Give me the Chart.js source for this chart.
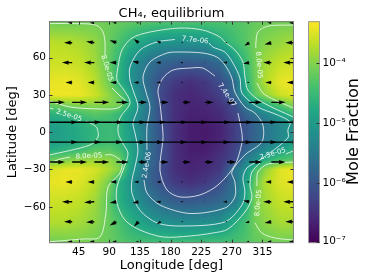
<!DOCTYPE html>
<html>
<head>
<meta charset="utf-8">
<style>html,body{margin:0;padding:0;background:#fff}canvas{display:block}</style>
<script src="https://cdnjs.cloudflare.com/ajax/libs/Chart.js/4.4.1/chart.umd.min.js"></script>
</head>
<body>
<canvas id="chart" width="374" height="280"></canvas>
<script>
// --- Axis ticks ------------------------------------------------------------
const LON_TICKS = [45,90,135,180,225,270,315];
const LAT_TICKS = [-60,-30,0,30,60];
const CBAR_TICKS = [1e-7,1e-6,1e-5,1e-4];
const CBAR_LABELS = ['10\u207B\u2077','10\u207B\u2076','10\u207B\u2075','10\u207B\u2074'];

// --- log10 mole fraction, one row per latitude -----------------------------
const FIELD_LON = [2.9,25,47,69,91,105,120,135,150,165,187,209,231,253,275,290,305,319,341,360.4];
const FIELD_LAT = [88,72,56,40,30,22,14,7,0,-7,-14,-22,-30,-40,-56,-72,-88];
const LOG_N88 = [-4.12,-4.12,-4.12,-4.1,-4.15,-4.2,-4.25,-4.3,-4.35,-4.38,-4.4,-4.4,-4.4,-4.38,-4.33,-4.28,-4.2,-4.15,-4.1,-4.1];
const LOG_N72 = [-3.7,-3.72,-3.78,-3.92,-4.2,-4.4,-4.65,-4.85,-5.0,-5.12,-5.14,-5.15,-5.13,-4.78,-4.45,-4.3,-4.1,-4.0,-3.9,-3.8];
const LOG_N56 = [-3.6,-3.6,-3.65,-3.85,-4.25,-4.63,-5.07,-5.35,-5.62,-5.78,-5.9,-5.95,-5.9,-5.72,-5.0,-4.5,-4.1,-3.85,-3.65,-3.6];
const LOG_N40 = [-3.45,-3.42,-3.47,-3.7,-4.15,-4.65,-5.11,-5.45,-5.8,-6.13,-6.4,-6.5,-6.4,-6.13,-5.72,-4.7,-4.1,-3.75,-3.45,-3.4];
const LOG_N30 = [-3.4,-3.4,-3.42,-3.6,-3.95,-4.22,-4.75,-5.3,-5.7,-6.2,-6.5,-6.6,-6.5,-6.3,-5.7,-4.85,-4.25,-3.95,-3.6,-3.5];
const LOG_N22 = [-4.2,-4.07,-4.0,-3.97,-4.0,-4.1,-4.65,-5.2,-5.62,-6.13,-6.5,-6.62,-6.6,-6.45,-6.13,-5.5,-5.05,-4.7,-4.3,-4.0];
const LOG_N14 = [-4.7,-4.62,-4.45,-4.3,-4.4,-4.58,-4.95,-5.3,-5.68,-6.13,-6.52,-6.66,-6.66,-6.55,-6.25,-5.85,-5.6,-5.35,-4.95,-4.55];
const LOG_N07 = [-4.95,-4.85,-4.7,-4.55,-4.5,-4.6,-5.0,-5.35,-5.72,-6.08,-6.5,-6.7,-6.72,-6.62,-6.3,-6.05,-5.78,-5.58,-5.3,-5.05];
const LOG_EQ  = [-5.0,-4.9,-4.75,-4.62,-4.5,-4.62,-4.95,-5.28,-5.68,-6.05,-6.5,-6.72,-6.75,-6.65,-6.3,-6.05,-5.8,-5.58,-5.3,-5.07];
const LOG_S07 = [-4.98,-4.88,-4.75,-4.58,-4.48,-4.58,-4.9,-5.25,-5.7,-6.05,-6.5,-6.7,-6.72,-6.62,-6.3,-6.05,-5.8,-5.55,-5.28,-5.05];
const LOG_S14 = [-4.75,-4.65,-4.5,-4.3,-4.3,-4.45,-4.8,-5.2,-5.7,-6.05,-6.5,-6.7,-6.7,-6.55,-6.25,-5.85,-5.5,-5.25,-4.95,-4.68];
const LOG_S22 = [-4.2,-4.08,-3.95,-3.9,-3.95,-4.15,-4.75,-5.25,-5.7,-6.05,-6.5,-6.66,-6.62,-6.45,-6.2,-5.45,-5.2,-4.75,-4.4,-4.3];
const LOG_S30 = [-3.55,-3.45,-3.45,-3.55,-3.8,-4.02,-4.85,-5.35,-5.8,-6.13,-6.5,-6.62,-6.55,-6.4,-5.55,-5.15,-4.4,-3.95,-3.5,-3.4];
const LOG_S40 = [-3.45,-3.42,-3.5,-3.7,-4.1,-4.68,-5.05,-5.5,-5.85,-6.1,-6.38,-6.5,-6.4,-6.15,-5.62,-4.95,-4.15,-3.75,-3.5,-3.45];
const LOG_S56 = [-3.6,-3.62,-3.68,-3.85,-4.3,-4.68,-4.98,-5.22,-5.5,-5.7,-5.9,-5.95,-5.88,-5.75,-5.5,-4.85,-4.05,-3.85,-3.65,-3.6];
const LOG_S72 = [-3.75,-3.75,-3.82,-3.95,-4.2,-4.4,-4.65,-4.87,-5.05,-5.15,-5.25,-5.27,-5.22,-5.2,-4.72,-4.45,-4.1,-3.95,-3.8,-3.78];
const LOG_S88 = [-4.1,-4.08,-4.06,-4.1,-4.2,-4.3,-4.4,-4.45,-4.48,-4.5,-4.5,-4.5,-4.5,-4.48,-4.42,-4.35,-4.22,-4.15,-4.1,-4.1];
const FIELD_ROWS = [LOG_N88,LOG_N72,LOG_N56,LOG_N40,LOG_N30,LOG_N22,LOG_N14,LOG_N07,LOG_EQ,LOG_S07,LOG_S14,LOG_S22,LOG_S30,LOG_S40,LOG_S56,LOG_S72,LOG_S88];

// --- Wind vectors, in degrees of lon / lat per row --------------------------
const WIND_LON = [3,35.5,68,100.5,133,165.5,198,230.5,263,295.5,328,360.5];
const WIND_LAT = [88,72,56,40,24,8,-8,-24,-40,-56,-72,-88];
const WIND_U = [
  [-6,-7,-7,-6,-4,-3,-1.5,-1.5,-3,-4,-6,-7],
  [-12,-12,-12,-10,-7,-6,-3,-1.5,-3,-7,-10,-12],
  [-15,-15,-15,-10,-9,-7,-4,-1.5,-6,-9,-12,-15],
  [-10,-10,-10,-9,-7,-6,-3,-1.5,-1.5,-4,-9,-10],
  [22,22,22,18,13,12,12,13,12,19,21,21],
  [41,43,43,44,41,40,37,38,38,41,41,41],
  [41,43,42,44,37,39,37,37,37,41,41,41],
  [22,22,22,18,13,12,12,13,14,19,21,21],
  [-10,-10,-10,-9,-7,-6,-3,-1.5,-1.5,-4,-9,-10],
  [-15,-15,-15,-10,-9,-7,-4,-1.5,-6,-9,-12,-15],
  [-12,-12,-12,-10,-7,-6,-3,-1.5,-3,-6,-10,-12],
  [-6,-7,-7,-6,-4,-3,-1.5,-1.5,-3,-4,-6,-7],
];
const WIND_V = [
  [0,0,0,0,0,0,0,0,0,0,0,0],
  [0,0,1,2,3,1.5,0,0,0,-2.5,-1.5,0],
  [0,0,0,0,1,0,0,0,0,-1,0,0],
  [0,0,0,0,0,0,0,0,0,0,0,0],
  [0,0,0,0,0,0,0,0,0,0,0,0],
  [0,0,0,0,0,0,0,0,0,0,0,0],
  [0,0,0,0,0,0,0,0,0,0,0,0],
  [0,0,0,0,0,0,0,0,0,0,0,0],
  [0,0,0,0,0,0,0,0,0,0,0,0],
  [0,0,-0.5,-1,-1,0,0,0,0,1,0,0],
  [0,0,-0.5,-3,-4,-2,0,0,0,-1,-1,0],
  [0,0,0,0,0,0,0,0,0,0,0,0],
];

// --- Contour lines, [lon, lat]; broken where their labels sit ---------------
const C80_NW_A = [[2.9,87.4],[35.2,87.4],[61.7,87],[73.4,85.4],[80.7,80.6],[83.7,72.6],[83.7,62.1]];
const C80_NW_B = [[94,35.6],[105.7,29.1],[113,25.5],[102.8,19.5],[76.3,18.7],[32.3,20.3],[2.9,25.1]];
const C80_NE_A = [[360.2,86.2],[323,85.4],[308.3,80.6],[305.3,71.8],[305.3,67.7]];
const C80_NE_B = [[306.8,39.6],[315.6,31.5],[333.2,25.9],[360.2,19.5]];
const C80_SW_A = [[2.9,-24.8],[17.6,-21.6],[32.3,-20]];
const C80_SW_B = [[83.7,-18.3],[94,-18.3],[108.6,-24],[105.7,-32.8],[88.1,-44.1],[85.1,-65],[76.3,-84.3],[51.4,-85.9],[2.9,-88.1]];
const C80_SE_A = [[360.2,-24],[323,-25.6],[308.3,-32],[306.8,-40.1],[306.8,-43.3]];
const C80_SE_B = [[303.9,-73],[314.1,-81.1],[333.2,-85.1],[360.2,-86.7]];
const C25_W_A = [[2.9,19.5],[8,18.6]];
const C25_W_B = [[55.8,9],[64.6,6.6],[71.9,3.4],[73.4,-3.9],[61.7,-10.3],[2.9,-18.3]];
const C25_MAIN = [[360.2,12.2],[314.1,24.3],[293.6,33.9],[289.2,44.4],[286.3,56.5],[274.5,66.1],[259.8,72.6],[252.5,76.6],[227.5,82.2],[193.8,83.8],[149.7,80.6],[123.3,75.8],[108.6,66.1],[102.8,52.5],[101.3,42],[111.6,33.9],[120.4,23.5],[105.7,11.4],[102.8,0.2],[108.6,-7.9],[117.4,-16.7],[113,-26.4],[101.3,-44.1],[101.3,-57],[113,-70.7],[135.1,-78.7],[168.8,-84.3],[208.5,-83.5],[242.2,-81.1],[264.2,-78],[289.2,-64.2],[299.5,-52.9],[296.6,-42.5],[299.5,-32],[311.2,-24.8]];
const C25_E = [[349.4,-17.5],[360.2,-15.1]];
const C77_LOOP = [[186.4,74.6],[160,72.6],[135.1,66.1],[120.4,52.5],[120.4,42],[124.8,33.9],[132.1,20.3],[124.8,7.4],[127.7,-0.6],[132.1,-14.3],[127.7,-28],[123.3,-38.5],[123.3,-48.9],[135.1,-62.9],[160,-73],[193.8,-75.5],[259.8,-72.2],[284.8,-58.6],[289.2,-48.1],[286.3,-36.8],[292.1,-28.8],[311.2,-22.4],[352.3,-4.7],[352.3,1.8],[355.3,8.2],[337.6,13.8],[308.3,20.3],[284.8,31.5],[281.9,43.6],[271.6,55.7],[259.8,64.5],[242.2,68.5],[236.3,71.8]];
const C24_LOOP = [[145.3,-14.3],[145.3,4.2],[149.7,20.3],[143.9,32.3],[139.5,44.4],[149.7,56.5],[174.7,63.7],[193.8,64.5],[227.5,63.7],[248,60.5],[259.8,54.1],[270,43.6],[274.5,32.3],[289.2,20.3],[303.9,15.4],[315.6,5.8],[314.1,-7.9],[289.2,-18.3],[270,-32],[274.5,-40.1],[274.5,-52.1],[259.8,-61],[208.5,-65.4],[164.4,-58.6],[145.3,-48.9],[140.9,-38.5]];
const C74_LOOP = [[278.9,15.4],[284.8,-0.6],[284.8,-8.7],[274.5,-26.4],[249.6,-42.5],[223.1,-50.5],[193.8,-52.1],[174.7,-46.5],[164.4,-30.4],[168.8,-6.3],[168.8,-0.6],[164.4,23.5],[161.5,33.9],[168.8,43.6],[183.5,50],[208.5,51.6],[227.5,51.6],[245.2,45.2]];
const CONTOURS = [C80_NW_A,C80_NW_B,C80_NE_A,C80_NE_B,C80_SW_A,C80_SW_B,C80_SE_A,C80_SE_B,C25_W_A,C25_W_B,C25_MAIN,C25_E,C77_LOOP,C24_LOOP,C74_LOOP];

// contour label: text, lon, lat, rotation in degrees
const LABEL_TEXT = ['8.0e-05','7.7e-06','8.0e-05','7.4e-07','2.5e-05','8.0e-05','2.4e-06','2.5e-05','8.0e-05'];
const LABEL_LON  = [86.6,216.0,309.7,262.8,30.8,60.2,145.3,330.3,309.0];
const LABEL_LAT  = [51.6,74.0,54.0,29.9,13.5,-19.3,-26.4,-17.5,-57.0];
const LABEL_ROT  = [73,6,85,55,18,-3,-80,-17,-85];

const CBAR_MIN = 1e-7, CBAR_MAX = 4.8e-4;
const VIRIDIS = ['#440154','#482475','#414487','#355f8d','#2a788e','#21918c','#22a884','#44bf70','#7ad151','#bddf26','#fde725'];
const FRAME = '#7a7a7a';

// --- Colour helpers -------------------------------------------------------
const VIR_RGB = VIRIDIS.map(h=>[1,3,5].map(i=>parseInt(h.slice(i,i+2),16)));
function viridis(t){
  t = Math.min(1,Math.max(0,t))*(VIR_RGB.length-1);
  const i = Math.min(VIR_RGB.length-2,Math.floor(t)), f = t-i;
  return VIR_RGB[i].map((c,k)=>c+(VIR_RGB[i+1][k]-c)*f);
}
const colorOfLog = v => viridis((v-Math.log10(CBAR_MIN))/(Math.log10(CBAR_MAX)-Math.log10(CBAR_MIN)));

function gridIndex(arr,v){   // works for ascending and descending arrays
  const asc = arr[1]>arr[0];
  for(let i=0;i<arr.length-1;i++){
    if(asc ? v<=arr[i+1] : v>=arr[i+1]) return [i,Math.min(1,Math.max(0,(v-arr[i])/(arr[i+1]-arr[i])))];
  }
  return [arr.length-2,1];
}

// --- Plugins --------------------------------------------------------------
const fieldPlugin = {
  id:'field',
  beforeDatasetsDraw(chart){
    const {ctx,chartArea:a,scales:{x,y}} = chart;
    const L=Math.floor(a.left), T=Math.floor(a.top), w=Math.ceil(a.right)-L, h=Math.ceil(a.bottom)-T;
    const off=document.createElement('canvas'); off.width=w; off.height=h;
    const oc=off.getContext('2d'), img=oc.createImageData(w,h);
    for(let py=0;py<h;py++){
      const [j,fy]=gridIndex(FIELD_LAT,y.getValueForPixel(T+py+.5));
      for(let px=0;px<w;px++){
        const [i,fx]=gridIndex(FIELD_LON,x.getValueForPixel(L+px+.5));
        const top=FIELD_ROWS[j][i]*(1-fx)+FIELD_ROWS[j][i+1]*fx;
        const bot=FIELD_ROWS[j+1][i]*(1-fx)+FIELD_ROWS[j+1][i+1]*fx;
        const c=colorOfLog(top*(1-fy)+bot*fy), o=(py*w+px)*4;
        img.data[o]=c[0]; img.data[o+1]=c[1]; img.data[o+2]=c[2]; img.data[o+3]=255;
      }
    }
    oc.putImageData(img,0,0);
    ctx.drawImage(off,L,T);
  }
};

// quiver arrow, matplotlib proportions: short ones shrink as a whole
function drawArrow(ctx,x0,y0,x1,y1){
  const W=1.4, HL=5*W, HA=4.5*W, HW=1.5*W;
  const len=Math.hypot(x1-x0,y1-y0); if(len<.3) return;
  const s=len<HL?len/HL:1;
  ctx.save(); ctx.translate(x0,y0); ctx.rotate(Math.atan2(y1-y0,x1-x0)); ctx.scale(s,s);
  const L=len/s;
  ctx.beginPath();
  ctx.moveTo(0,-W/2); ctx.lineTo(L-HA,-W/2); ctx.lineTo(L-HL,-HW); ctx.lineTo(L,0);
  ctx.lineTo(L-HL,HW); ctx.lineTo(L-HA,W/2); ctx.lineTo(0,W/2); ctx.closePath();
  ctx.fill(); ctx.restore();
}

const overlayPlugin = {
  id:'overlay',
  afterDatasetsDraw(chart){
    const {ctx,chartArea:a,scales:{x,y}} = chart;
    ctx.save();
    ctx.beginPath(); ctx.rect(a.left,a.top,a.right-a.left,a.bottom-a.top); ctx.clip();
    ctx.fillStyle='#000';
    WIND_LAT.forEach((lat,r)=>WIND_LON.forEach((lon,c)=>{
      drawArrow(ctx,x.getPixelForValue(lon),y.getPixelForValue(lat),
        x.getPixelForValue(lon+WIND_U[r][c]),y.getPixelForValue(lat+WIND_V[r][c]));
    }));
    ctx.fillStyle='rgba(255,255,255,.92)'; ctx.font='7px "DejaVu Sans"'; ctx.textAlign='center'; ctx.textBaseline='middle';
    LABEL_TEXT.forEach((t,i)=>{
      ctx.save();
      ctx.translate(x.getPixelForValue(LABEL_LON[i]),y.getPixelForValue(LABEL_LAT[i]));
      ctx.rotate(LABEL_ROT[i]*Math.PI/180);
      ctx.fillText(t,0,0); ctx.restore();
    });
    ctx.restore();
    // frame and inward ticks
    ctx.strokeStyle=FRAME; ctx.lineWidth=1;
    ctx.strokeRect(a.left,a.top,a.right-a.left,a.bottom-a.top);
    ctx.strokeStyle='#333'; ctx.beginPath();
    LON_TICKS.forEach(v=>{const p=Math.round(x.getPixelForValue(v))+.5;
      ctx.moveTo(p,a.bottom); ctx.lineTo(p,a.bottom-3); ctx.moveTo(p,a.top); ctx.lineTo(p,a.top+3);});
    LAT_TICKS.forEach(v=>{const p=Math.round(y.getPixelForValue(v))+.5;
      ctx.moveTo(a.left,p); ctx.lineTo(a.left+3,p); ctx.moveTo(a.right,p); ctx.lineTo(a.right-3,p);});
    ctx.stroke();
    drawColorbar(chart);
  }
};

function drawColorbar(chart){
  const {ctx,chartArea:a,scales:{cb}} = chart;
  const L=308.5, R=319.5;
  for(let p=Math.floor(a.top);p<Math.ceil(a.bottom);p++){
    const c=colorOfLog(Math.log10(cb.getValueForPixel(p+.5)));
    ctx.fillStyle=`rgb(${c.map(Math.round).join(',')})`;
    ctx.fillRect(L,p,R-L,1);
  }
  ctx.strokeStyle='#999'; ctx.lineWidth=1; ctx.strokeRect(L,a.top,R-L,a.bottom-a.top);
  ctx.strokeStyle='#333'; ctx.fillStyle='#000'; ctx.font='10.5px "DejaVu Sans"';
  ctx.textAlign='left'; ctx.textBaseline='middle';
  CBAR_TICKS.forEach((v,i)=>{
    const p=Math.round(cb.getPixelForValue(v))+(i?.5:-.5);
    ctx.beginPath(); ctx.moveTo(R,p); ctx.lineTo(R-3,p); ctx.stroke();
    ctx.fillText(CBAR_LABELS[i],322.5,p-(i?0:1));
  });
  ctx.save(); ctx.translate(354,131.5); ctx.rotate(-Math.PI/2);
  ctx.font='16px "DejaVu Sans"'; ctx.textAlign='center'; ctx.fillText('Mole Fraction',0,0);
  ctx.restore();
}

// --- Chart ----------------------------------------------------------------
const FONT='"DejaVu Sans"';
new Chart(document.getElementById('chart'),{
  type:'scatter',
  data:{datasets:CONTOURS.map(c=>({
    data:c.map(p=>({x:p[0],y:p[1]})), showLine:true, tension:.3, borderColor:'rgba(255,255,255,.9)', borderWidth:.85, pointRadius:0,
  }))},
  options:{
    responsive:false, animation:false, events:[],
    layout:{padding:{left:0,right:80.6,top:0,bottom:0}},
    plugins:{
      legend:{display:false}, tooltip:{enabled:false},
      title:{display:true,fullSize:false,text:'CH\u2084, equilibrium',color:'#000',
        font:{family:FONT,size:13,weight:'normal',lineHeight:1.2},padding:{top:5.5,bottom:.6}},
    },
    scales:{
      x:{type:'linear',min:2.2,max:360.4,
        afterBuildTicks:s=>{s.ticks=LON_TICKS.map(v=>({value:v}));},
        afterFit:s=>{s.height=37.3;},
        grid:{display:false,drawTicks:false},border:{display:false},
        ticks:{color:'#000',font:{family:FONT,size:10.5},padding:3,maxRotation:0,autoSkip:false},
        title:{display:true,text:'Longitude [deg]',color:'#000',font:{family:FONT,size:13},padding:{top:0,bottom:7}}},
      y:{type:'linear',min:-88.9,max:88.9,
        afterBuildTicks:s=>{s.ticks=LAT_TICKS.map(v=>({value:v}));},
        afterFit:s=>{s.width=49.5;},
        grid:{display:false,drawTicks:false},border:{display:false},
        ticks:{color:'#000',font:{family:FONT,size:10.5},padding:3.5,autoSkip:false,callback:v=>String(v).replace('-','\u2212')},
        title:{display:true,text:'Latitude [deg]',color:'#000',font:{family:FONT,size:13},padding:{top:5,bottom:0}}},
      cb:{type:'logarithmic',position:'right',display:false,min:CBAR_MIN,max:CBAR_MAX},
    },
  },
  plugins:[fieldPlugin,overlayPlugin],
});
</script>
</body>
</html>
